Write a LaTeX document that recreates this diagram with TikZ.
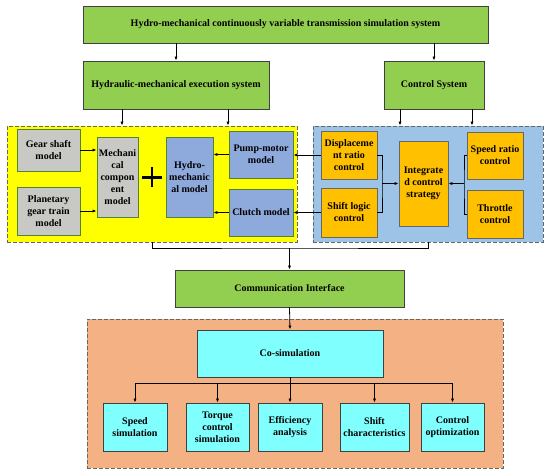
\documentclass[tikz,border=0pt]{standalone}
\usepackage{fontspec}
\setmainfont{Liberation Serif}
\usetikzlibrary{arrows.meta,calc}
\definecolor{grn}{RGB}{146,206,80}
\definecolor{ylw}{RGB}{255,255,0}
\definecolor{gry}{RGB}{200,200,196}
\definecolor{stl}{RGB}{142,169,219}
\definecolor{bcont}{RGB}{157,195,230}
\definecolor{org}{RGB}{255,192,0}
\definecolor{ocont}{RGB}{244,177,131}
\definecolor{cyn}{RGB}{128,255,255}
\definecolor{gborder}{RGB}{84,130,53}
\definecolor{dk}{RGB}{64,64,64}
\tikzset{
  bx/.style args={#1/#2}{rectangle, inner sep=0pt, minimum width=#1pt, minimum height=#2pt,
     font=\fontsize{10}{12}\selectfont\bfseries, align=center, line width=0.9pt},
  greenbox/.style={fill=grn, draw=dk},
  graybox/.style={fill=gry, draw=gborder},
  steelbox/.style={fill=stl, draw=gborder},
  orgbox/.style={fill=org, draw=gray!80!black},
  cynbox/.style={fill=cyn, draw=dk},
  cont/.style={draw=dk!80, dashed, dash pattern=on 4pt off 2pt, line width=0.9pt},
  arr/.style={-{Latex[length=4pt,width=3.2pt]}, line width=0.8pt},
  ln/.style={line width=0.8pt}
}
\begin{document}
\begin{tikzpicture}[x=1pt,y=-1pt]
\useasboundingbox (0,0) rectangle (550,476);
% containers
\node[bx=290/116, cont, fill=ylw] (yc) at (152,184) {};
\node[bx=230/116, cont, fill=bcont] (bc) at (428,184) {};
\node[bx=416/149, cont, fill=ocont] (oc) at (295,393.5) {};
% top level
\node[bx=405/37, greenbox] (top) at (285.5,24.5) {Hydro-mechanical continuously variable transmission simulation system};
\node[bx=186/48, greenbox] (hyd) at (176,85) {Hydraulic-mechanical execution system};
\node[bx=100/48, greenbox] (ctrl) at (434,85) {Control System};
% left group
\node[bx=63/42, graybox] (gear) at (48.5,150) {Gear shaft\\model};
\node[bx=63/48, graybox] (plan) at (48.5,211) {Planetary\\gear train\\model};
\node[bx=41/80, graybox] (mech) at (117.5,177) {Mechani\\cal\\compon\\ent\\model};
\node[bx=47/80, steelbox] (hm) at (189.5,177) {Hydro-\\mechanic\\al model};
\node[bx=64/47, steelbox] (pump) at (261,154.5) {Pump-motor\\model};
\node[bx=64/47, steelbox] (clutch) at (261,212.5) {Clutch model};
\coordinate (plusc) at (152,177.5);
\draw[line width=2.6pt] ($(plusc)+(-10,0)$) -- ($(plusc)+(10,0)$);
\draw[line width=2.6pt] ($(plusc)+(0,-10)$) -- ($(plusc)+(0,10)$);
% right group
\node[bx=56/48, orgbox] (disp) at (349,155) {Displaceme\\nt ratio\\control};
\node[bx=56/49, orgbox] (shift) at (349,212.5) {Shift logic\\control};
\node[bx=49/85, orgbox] (integ) at (423.5,183.5) {Integrate\\d control\\strategy};
\node[bx=56/47, orgbox] (sratio) at (495,155.5) {Speed ratio\\control};
\node[bx=56/48, orgbox] (thr) at (495,214) {Throttle\\control};
% lower
\node[bx=229/37, greenbox] (comm) at (289.5,288.5) {Communication Interface};
\node[bx=186/47, cynbox] (cosim) at (290,353.5) {Co-simulation};
\node[bx=64/48, cynbox] (sp) at (135,427) {Speed\\simulation};
\node[bx=63/48, cynbox] (tq) at (217.5,427) {Torque\\control\\simulation};
\node[bx=64/48, cynbox] (ef) at (290,427) {Efficiency\\analysis};
\node[bx=69/48, cynbox] (sc) at (374.5,427) {Shift\\characteristics};
\node[bx=63/48, cynbox] (co) at (452.5,427) {Control\\optimization};
% arrows top
\draw[arr] (top.south -| hyd.north) -- (hyd.north);
\draw[arr] (top.south -| ctrl.north) -- (ctrl.north);
\draw[arr] (hyd.south -| 122,0) -- (yc.north -| 122,0);
\draw[arr] (hyd.south -| 228,0) -- (yc.north -| 228,0);
\draw[arr] (ctrl.south -| 400,0) -- (bc.north -| 400,0);
\draw[arr] (ctrl.south -| 472,0) -- (bc.north -| 472,0);
% left group arrows
\draw[arr] (gear.east) -- (gear.east -| mech.west);
\draw[arr] (plan.east) -- (plan.east -| mech.west);
\draw[arr] (pump.west) -- (pump.west -| hm.east);
\draw[arr] (clutch.west) -- (clutch.west -| hm.east);
\draw[arr] (disp.west) -- (disp.west -| pump.east);
\draw[arr] (shift.west) -- (shift.west -| clutch.east);
% right group arrows
\coordinate (jl) at (382,183.5);
\coordinate (jr) at (464,183.5);
\draw[ln] (disp.east) -| (jl) |- (shift.east);
\draw[arr] (jl) -- (integ.west);
\draw[ln] (sratio.west) -| (jr) |- (thr.west);
\draw[arr] (jr) -- (integ.east);
% join to comm
\coordinate (jb) at (289.5,248);
\draw[ln] (yc.south) |- (jb) -| (bc.south);
\draw[arr] (jb) -- (comm.north);
\draw[arr] (comm.south) -- (cosim.north);
% bus
\coordinate (bus) at (290,383);
\draw[ln] (cosim.south) -- (bus);
\draw[ln] (sp.north |- bus) -- (co.north |- bus);
\foreach \n in {sp,tq,ef,sc,co} \draw[arr] (\n.north |- bus) -- (\n.north);
\end{tikzpicture}
\end{document}
